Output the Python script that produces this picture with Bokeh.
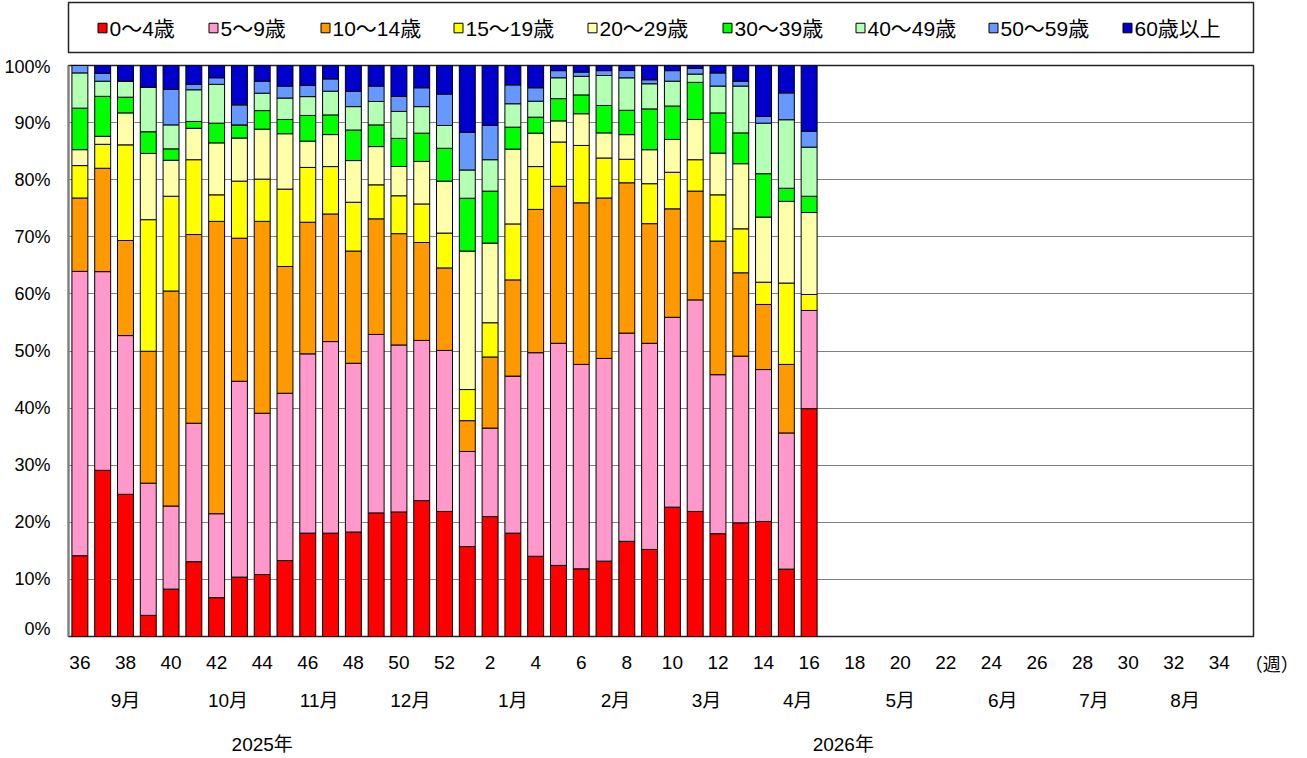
from bokeh.plotting import figure
from bokeh.models import ColumnDataSource, FixedTicker, Range1d
from bokeh.embed import file_html
from bokeh.resources import INLINE
from bokeh.core.properties import value

# ---------------- data ----------------
weeks = list(range(36, 53)) + list(range(1, 36))          # 52 week slots (2025-W36 .. 2026-W35)
tick_weeks = [36, 38, 40, 42, 44, 46, 48, 50, 52, 2, 4, 6, 8, 10, 12, 14, 16,
              18, 20, 22, 24, 26, 28, 30, 32, 34]
months = ["9月", "10月", "11月", "12月", "1月", "2月", "3月", "4月", "5月", "6月", "7月", "8月"]
month_pos = [2.0, 6.5, 10.5, 14.5, 19.0, 23.5, 27.5, 31.5, 36.0, 40.5, 44.5, 48.5]
years = ["2025年", "2026年"]
year_pos = [8.0, 33.5]
unit_label = "（週）"
unit_pos = 52.3

groups = ["0～4歳", "5～9歳", "10～14歳", "15～19歳", "20～29歳",
          "30～39歳", "40～49歳", "50～59歳", "60歳以上"]
colors = ["#FF0000", "#FF99CC", "#FF9900", "#FFFF00", "#FFFFAA",
          "#00FF00", "#B3FFB3", "#6699FF", "#0000CC"]

age_0_4 = [14.2, 29.1, 24.9, 3.7, 8.3, 13.1, 6.8, 10.4, 10.85, 13.3, 18.1, 18.1, 18.3, 21.65, 21.7, 23.8, 21.9,
           15.75, 21.0, 18.1, 14.05, 12.45, 11.85, 13.2, 17.0, 15.25, 22.65, 21.9, 18.0, 19.9, 20.15, 11.8, 39.9]
age_5_9 = [50.0, 34.8, 27.8, 23.15, 14.55, 24.25, 14.7, 34.3, 28.25, 29.3, 31.4, 33.55, 29.55, 31.25, 29.1, 28.05, 28.2,
           16.65, 15.5, 27.5, 35.65, 38.9, 35.8, 35.5, 37.2, 36.1, 33.25, 37.05, 27.85, 29.2, 26.6, 23.85, 17.2]
age_10_14 = [12.9, 18.1, 16.65, 23.1, 37.65, 33.05, 51.2, 25.05, 33.6, 22.2, 23.05, 22.35, 19.65, 20.25, 19.4, 17.15, 14.45,
             5.4, 12.45, 16.85, 25.1, 27.5, 28.3, 28.1, 26.85, 20.95, 19.0, 19.05, 23.4, 14.6, 11.4, 12.0, 0.0]
age_15_19 = [5.7, 4.2, 16.75, 23.05, 16.6, 13.1, 4.65, 10.0, 7.4, 13.55, 9.6, 8.3, 8.55, 5.95, 6.6, 6.75, 6.1,
             5.45, 6.0, 9.8, 7.5, 7.75, 10.05, 7.0, 4.2, 7.0, 6.4, 5.5, 8.1, 7.7, 3.9, 14.25, 2.8]
age_20_29 = [2.8, 1.4, 5.6, 11.6, 6.3, 5.5, 9.1, 7.55, 8.75, 9.7, 4.6, 5.6, 7.3, 6.7, 5.1, 7.45, 9.1,
             24.25, 13.95, 13.1, 5.85, 3.7, 5.55, 4.4, 4.4, 5.95, 5.75, 7.05, 7.3, 11.4, 11.4, 14.3, 14.35]
age_30_39 = [7.3, 7.0, 2.75, 3.8, 2.0, 1.2, 3.45, 2.3, 3.25, 2.5, 4.5, 3.45, 5.35, 3.8, 4.9, 4.95, 5.75,
             9.25, 9.1, 3.85, 2.8, 3.9, 3.3, 4.8, 4.35, 7.15, 5.85, 6.5, 7.05, 5.4, 7.6, 2.3, 2.85]
age_40_49 = [6.2, 2.65, 2.8, 7.8, 4.2, 5.55, 6.8, 0.0, 3.05, 3.75, 3.3, 4.15, 4.1, 4.1, 4.7, 4.65, 4.0,
             4.95, 5.5, 4.1, 2.8, 3.65, 3.25, 5.25, 5.8, 4.4, 4.35, 1.45, 4.7, 8.2, 8.85, 12.0, 8.6]
age_50_59 = [1.3, 1.4, 0.0, 0.0, 6.2, 0.95, 1.15, 3.5, 2.1, 2.1, 1.95, 2.15, 2.65, 2.7, 2.6, 3.3, 5.5,
             6.6, 6.0, 3.3, 2.35, 1.25, 0.75, 0.85, 1.3, 0.7, 1.85, 1.0, 2.3, 0.85, 1.2, 4.7, 2.8]
age_60p = [0.0, 1.35, 2.75, 3.8, 4.2, 3.3, 2.15, 6.9, 2.75, 3.6, 3.5, 2.35, 4.55, 3.6, 5.4, 3.9, 5.0,
           11.7, 10.5, 3.4, 3.9, 0.9, 1.15, 0.9, 0.9, 2.5, 0.9, 0.5, 1.3, 2.75, 8.9, 4.8, 11.5]

series = [age_0_4, age_5_9, age_10_14, age_15_19, age_20_29, age_30_39, age_40_49, age_50_59, age_60p]

# ---------------- table (100% stacked) ----------------
n = len(age_0_4)
totals = [sum(s[i] for s in series) for i in range(n)]
src = {"x": list(range(n))}
keys = []
for k, s in enumerate(series):
    key = f"g{k}"
    keys.append(key)
    src[key] = [s[i] * 100.0 / totals[i] for i in range(n)]
source = ColumnDataSource(src)

FONT = "'Liberation Sans', 'Noto Sans CJK JP', sans-serif"

# layout constants (pixels)
W = 1300
LEFT = 68
RIGHT = W - 1253
FRAME_W = W - LEFT - RIGHT
X0, X1 = -0.5, len(weeks) - 0.5
px_per_unit = FRAME_W / (X1 - X0)

# ---------------- legend figure ----------------
lg = figure(width=W, height=56, x_range=Range1d(0, FRAME_W), y_range=Range1d(0, 47),
            output_backend="svg", toolbar_location=None,
            min_border_left=LEFT, min_border_right=RIGHT, min_border_top=2, min_border_bottom=4)
lg.xaxis.visible = False
lg.yaxis.visible = False
lg.grid.visible = False
lg.outline_line_color = "#222222"
lg.outline_line_width = 1.5
leg_x = [34, 145, 257, 390, 524, 659, 792, 925, 1059]
lg.rect(x=leg_x, y=[23] * 9, width=9, height=9, fill_color=colors, line_color="black", line_width=1)
lg.text(x=[v + 7 for v in leg_x], y=[23] * 9, text=groups, text_font=value(FONT),
        text_font_size="21px", text_baseline="middle", text_align="left", text_color="black")

# ---------------- main figure ----------------
p = figure(width=W, height=582, x_range=Range1d(X0, X1), y_range=Range1d(0, 100),
           output_backend="svg", toolbar_location=None,
           min_border_left=LEFT, min_border_right=RIGHT, min_border_top=9, min_border_bottom=2)

p.vbar_stack(keys, x="x", width=0.7, source=source, fill_color=colors,
             line_color="black", line_width=1)

p.outline_line_color = "#222222"
p.outline_line_width = 1.5
p.xgrid.visible = False
p.xaxis.visible = False
p.ygrid.grid_line_color = "#808080"
p.ygrid.grid_line_width = 1
p.ygrid.ticker = FixedTicker(ticks=list(range(0, 101, 10)))

p.yaxis.ticker = FixedTicker(ticks=list(range(0, 101, 10)))
p.yaxis.major_label_overrides = {t: f"{t}%" for t in range(0, 101, 10)}
p.yaxis.axis_line_color = "#808080"
p.yaxis.axis_line_width = 2
p.yaxis.major_tick_line_color = None
p.yaxis.minor_tick_line_color = None
p.yaxis.major_label_standoff = 12
p.yaxis.major_label_text_font = FONT
p.yaxis.major_label_text_font_size = "18px"
p.yaxis.major_label_text_color = "black"

# ---------------- bottom label strip (same x scale as the plot) ----------------
BH = 116
bx0 = X0 - LEFT / px_per_unit
bx1 = X1 + RIGHT / px_per_unit
b = figure(width=W, height=BH, x_range=Range1d(bx0, bx1), y_range=Range1d(BH, 0),
           output_backend="svg", toolbar_location=None,
           min_border_left=0, min_border_right=0, min_border_top=0, min_border_bottom=0)
b.xaxis.visible = False
b.yaxis.visible = False
b.grid.visible = False
b.outline_line_color = None

tick_pos = [weeks.index(w) for w in tick_weeks]
b.text(x=tick_pos, y=[24] * len(tick_pos), text=[str(w) for w in tick_weeks],
       text_font=value(FONT), text_font_size="19px", text_align="center",
       text_baseline="middle", text_color="black")
b.text(x=[unit_pos], y=[24], text=[unit_label], text_font=value("Noto Sans CJK JP"),
       text_font_size="18px", text_align="center", text_baseline="middle", text_color="black")
b.text(x=month_pos, y=[62] * len(month_pos), text=months,
       text_font=value(FONT), text_font_size="19px", text_align="center",
       text_baseline="middle", text_color="black")
b.text(x=year_pos, y=[106] * len(year_pos), text=years,
       text_font=value(FONT), text_font_size="19px", text_align="center",
       text_baseline="middle", text_color="black")

open("out.html", "w").write(file_html([lg, p, b], INLINE))
